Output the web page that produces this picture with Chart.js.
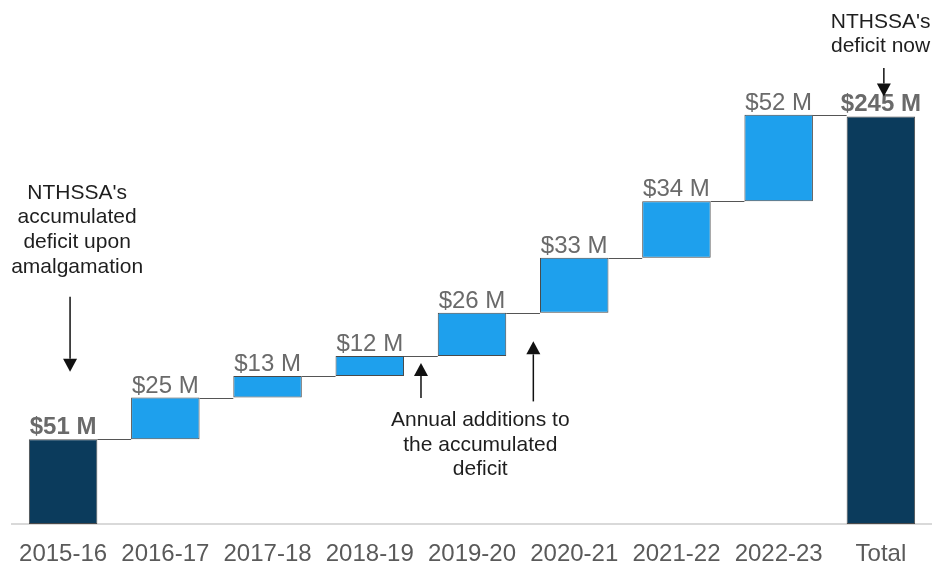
<!DOCTYPE html>
<html>
<head>
<meta charset="utf-8">
<script src="https://cdn.jsdelivr.net/npm/chart.js@4/dist/chart.umd.min.js"></script>
<style>
  html, body { margin: 0; padding: 0; background: #fff; overflow: hidden; }
  canvas { display: block; }
</style>
</head>
<body>
<canvas id="c" width="932" height="569" style="width:932px;height:569px"></canvas>
<script>
// ---- data ----
const categories = ['2015-16', '2016-17', '2017-18', '2018-19', '2019-20', '2020-21', '2021-22', '2022-23', 'Total'];
const openingDeficit = 51;                          // $M, upon amalgamation
const annualAdditions = [25, 13, 12, 26, 33, 34, 52]; // $M per year
const totalDeficit = 245;                           // $M, deficit now
const valueLabels = ['$51 M', '$25 M', '$13 M', '$12 M', '$26 M', '$33 M', '$34 M', '$52 M', '$245 M'];
const boldLabels = [true, false, false, false, false, false, false, false, true];

// annotation texts, anchored on category index / value
const noteTexts = [
  { x: 0.137, y: 195.5, lines: ["NTHSSA's", 'accumulated', 'deficit upon', 'amalgamation'] },
  { x: 4.081, y: 58.8, lines: ['Annual additions to', 'the accumulated', 'deficit'] },
  { x: 7.997, y: 298.3, lines: ["NTHSSA's", 'deficit now'] }
];
const noteArrows = [
  { x: 0.068, from: 136.6, to: 91.5 },
  { x: 3.501, from: 75.7, to: 96.8 },
  { x: 4.600, from: 73.7, to: 109.8 },
  { x: 8.029, from: 274.1, to: 257.0 }
];

// ---- build floating bars ----
const ranges = [[0, openingDeficit]];
let run = openingDeficit;
annualAdditions.forEach(v => { ranges.push([run, run + v]); run += v; });
ranges.push([0, totalDeficit]);

const DARK = '#0b3b5c';
const LIGHT = '#1ea0ed';
const colors = ranges.map((r, i) => (i === 0 || i === ranges.length - 1) ? DARK : LIGHT);

const FONT = '"Liberation Sans", Arial, sans-serif';

const overlay = {
  id: 'overlay',
  afterDatasetsDraw(chart) {
    const ctx = chart.ctx;
    const xs = chart.scales.x, ys = chart.scales.y;
    const meta = chart.getDatasetMeta(0);
    ctx.save();
    // connectors
    ctx.strokeStyle = '#555';
    ctx.lineWidth = 1;
    for (let i = 0; i < meta.data.length - 1; i++) {
      const a = meta.data[i], b = meta.data[i + 1];
      const y = Math.round(ys.getPixelForValue(ranges[i][1])) + 0.5;
      ctx.beginPath();
      ctx.moveTo(a.x + a.width / 2, y);
      ctx.lineTo(b.x - b.width / 2, y);
      ctx.stroke();
    }
    // value labels
    ctx.textAlign = 'center';
    ctx.textBaseline = 'alphabetic';
    meta.data.forEach((bar, i) => {
      ctx.font = (boldLabels[i] ? 'bold ' : '') + '24px ' + FONT;
      ctx.fillStyle = '#6a6a6a';
      const y = ys.getPixelForValue(ranges[i][1]) - 5;
      ctx.fillText(valueLabels[i], bar.x, y);
    });
    // annotation texts
    const catW = xs.getPixelForValue(1) - xs.getPixelForValue(0);
    const px = v => xs.getPixelForValue(0) + v * catW;
    ctx.font = '21px ' + FONT;
    ctx.fillStyle = '#1e1e1e';
    noteTexts.forEach(n => {
      const x = px(n.x);
      const y0 = ys.getPixelForValue(n.y);
      n.lines.forEach((t, k) => ctx.fillText(t, x, y0 + k * 24.6));
    });
    // arrows
    ctx.strokeStyle = '#111';
    ctx.fillStyle = '#111';
    ctx.lineWidth = 1.5;
    noteArrows.forEach(a => {
      const x = px(a.x);
      const y1 = ys.getPixelForValue(a.from);
      const y2 = ys.getPixelForValue(a.to);
      const dir = y2 > y1 ? 1 : -1;
      const head = 13;
      ctx.beginPath();
      ctx.moveTo(x, y1);
      ctx.lineTo(x, y2 - dir * head);
      ctx.stroke();
      ctx.beginPath();
      ctx.moveTo(x, y2);
      ctx.lineTo(x - 7, y2 - dir * head);
      ctx.lineTo(x + 7, y2 - dir * head);
      ctx.closePath();
      ctx.fill();
    });
    ctx.restore();
  }
};

new Chart(document.getElementById('c'), {
  type: 'bar',
  data: {
    labels: categories,
    datasets: [{
      data: ranges,
      backgroundColor: colors,
      borderColor: '#4a4a4a',
      borderWidth: 1,
      borderSkipped: false,
      barPercentage: 0.67,
      categoryPercentage: 1
    }]
  },
  options: {
    responsive: false,
    animation: false,
    events: [],
    devicePixelRatio: 1,
    layout: { padding: { left: 12, right: 0, top: 25, bottom: 0 } },
    plugins: { legend: { display: false }, tooltip: { enabled: false } },
    scales: {
      x: {
        grid: { display: false, drawTicks: false },
        border: { display: true, color: '#d9d9d9', width: 2 },
        ticks: { color: '#5a5a5a', font: { family: FONT, size: 24 }, padding: 16, maxRotation: 0, autoSkip: false },
        afterFit(scale) { scale.height = 45; }
      },
      y: {
        display: false,
        min: 0,
        max: 300,
        grid: { display: false }
      }
    }
  },
  plugins: [overlay]
});
</script>
</body>
</html>
